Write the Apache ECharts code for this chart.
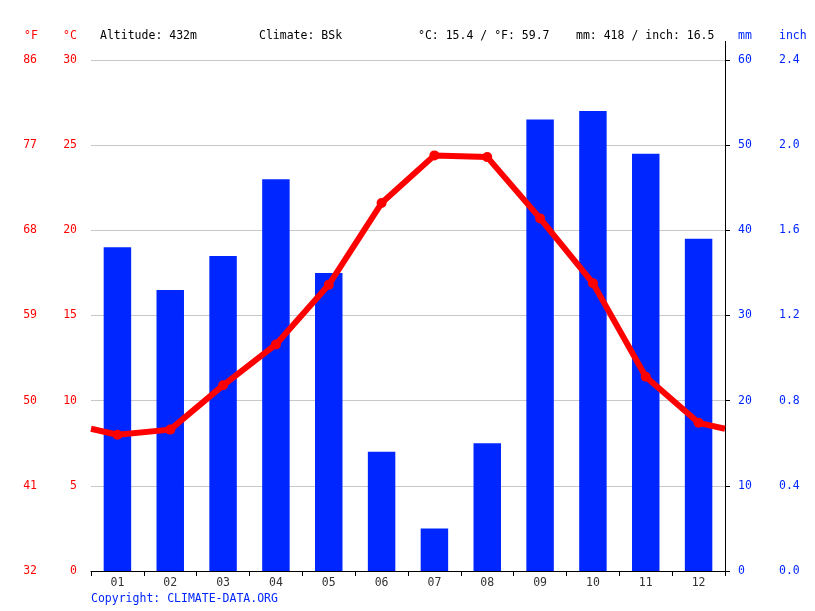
<!DOCTYPE html>
<html><head><meta charset="utf-8">
<script src="https://cdn.jsdelivr.net/npm/echarts@6/dist/echarts.min.js"></script>
<style>html,body{margin:0;padding:0;background:#fff}#c{width:815px;height:611px}</style>
</head><body><div id="c"></div>
<script>
const months = ['01','02','03','04','05','06','07','08','09','10','11','12'];
const precipMm = [38,33,37,46,35,14,5,15,53,54,49,39];
const tempC = [8.0,8.3,10.9,13.3,16.8,21.6,24.4,24.3,20.7,16.9,11.4,8.7];
const headerTexts = ['Altitude: 432m','Climate: BSk','°C: 15.4 / °F: 59.7','mm: 418 / inch: 16.5'];
const copyright = 'Copyright: CLIMATE-DATA.ORG';

const FONT = 'DejaVu Sans Mono';
const RED = '#ff0000', BLUE = '#0026ff';
const F = '11.5px ' + FONT;

// line points at category centers plus wrap-around edges
const edge = (tempC[0] + tempC[11]) / 2;
const linePts = [[0, edge]].concat(tempC.map((v,i)=>[i+0.5, v])).concat([[12, edge]]);

const chart = echarts.init(document.getElementById('c'), null, {renderer:'canvas'});
const ax = (extra) => Object.assign({
  type:'value', splitLine:{show:false}, axisTick:{show:false}, axisLine:{show:false}
}, extra);

chart.setOption({
  animation:false,
  grid:{left:91, right:90, top:60, bottom:40},
  xAxis:[
    {type:'category', data:months, boundaryGap:true,
     axisLine:{show:true, lineStyle:{color:'#000', width:1}},
     axisTick:{show:true, length:5, lineStyle:{color:'#000'}},
     axisLabel:{color:'#333', fontFamily:FONT, fontSize:11.5, margin:6}},
    {type:'value', min:0, max:12, show:false}
  ],
  yAxis:[
    ax({min:0, max:30, interval:5, position:'left',
        splitLine:{show:true, lineStyle:{color:'#c8c8c8', width:1}},
        axisLabel:{color:RED, fontFamily:FONT, fontSize:11.5, margin:14}}),
    ax({min:32, max:86, interval:9, position:'left', offset:40,
        axisLabel:{color:RED, fontFamily:FONT, fontSize:11.5, margin:14}}),
    ax({min:0, max:60, interval:10, position:'right',
        axisLine:{show:true, lineStyle:{color:'#000'}},
        axisTick:{show:true, length:5, lineStyle:{color:'#000'}},
        axisLabel:{color:BLUE, fontFamily:FONT, fontSize:11.5, margin:13}}),
    ax({min:0, max:2.4, interval:0.4, position:'right', offset:41,
        axisLabel:{color:BLUE, fontFamily:FONT, fontSize:11.5, margin:13,
                   formatter:v=>v.toFixed(1)}})
  ],
  series:[
    {type:'bar', data:precipMm, xAxisIndex:0, yAxisIndex:2, barWidth:'52%',
     itemStyle:{color:BLUE}, z:2},
    {type:'line', data:linePts, xAxisIndex:1, yAxisIndex:0,
     lineStyle:{color:RED, width:6}, itemStyle:{color:RED},
     symbol:'circle', symbolSize:(v,p)=> (p.dataIndex===0||p.dataIndex===linePts.length-1)?0:10,
     z:5}
  ],
  graphic:[
    {type:'text', left:24, top:30, style:{text:'°F', fill:RED, font:F}},
    {type:'text', left:63, top:30, style:{text:'°C', fill:RED, font:F}},
    {type:'text', left:100, top:30, style:{text:headerTexts[0], fill:'#000', font:F}},
    {type:'text', left:259, top:30, style:{text:headerTexts[1], fill:'#000', font:F}},
    {type:'text', left:418, top:30, style:{text:headerTexts[2], fill:'#000', font:F}},
    {type:'text', left:576, top:30, style:{text:headerTexts[3], fill:'#000', font:F}},
    {type:'text', left:738, top:30, style:{text:'mm', fill:BLUE, font:F}},
    {type:'text', left:779, top:30, style:{text:'inch', fill:BLUE, font:F}},
    {type:'line', shape:{x1:725.5, y1:41, x2:725.5, y2:60}, style:{stroke:'#000', lineWidth:1}},
    {type:'text', left:91, top:593, style:{text:copyright, fill:BLUE, font:F}}
  ]
});
</script></body></html>
